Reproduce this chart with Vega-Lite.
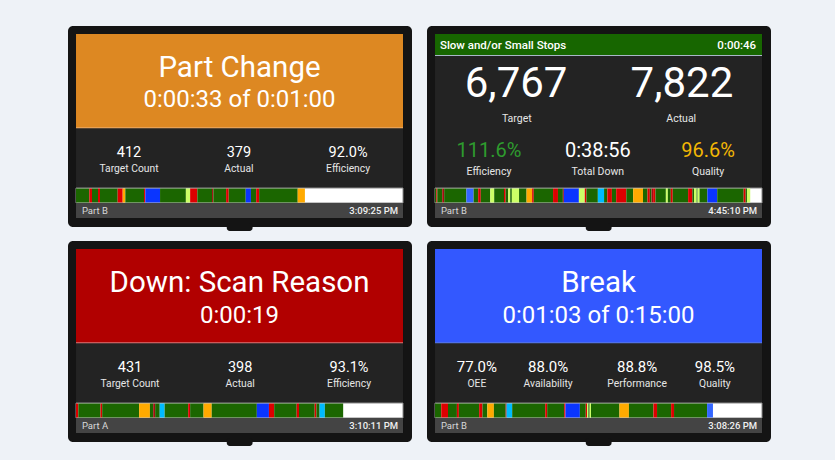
{
"$schema":"https://vega.github.io/schema/vega-lite/v6.json",
"background":"#EEF2F7",
"padding":{"left":68,"top":26,"right":64,"bottom":14},
"spacing":10,
"config":{"view":{"stroke":null},"text":{"font":"Roboto"}},
"datasets":{
"screens":[
{"screen":"A","title":"Part Change","timer":"0:00:33 of 0:01:00","v1":"412","l1":"Target Count","v2":"379","l2":"Actual","v3":"92.0%","l3":"Efficiency","part":"Part B","clock":"3:09:25 PM"},
{"screen":"B","title":"Slow and/or Small Stops","timer":"0:00:46","b1":"6,767","bl1":"Target","b2":"7,822","bl2":"Actual","v1":"111.6%","l1":"Efficiency","v2":"0:38:56","l2":"Total Down","v3":"96.6%","l3":"Quality","part":"Part B","clock":"4:45:10 PM"},
{"screen":"C","title":"Down: Scan Reason","timer":"0:00:19","v1":"431","l1":"Target Count","v2":"398","l2":"Actual","v3":"93.1%","l3":"Efficiency","part":"Part A","clock":"3:10:11 PM"},
{"screen":"D","title":"Break","timer":"0:01:03 of 0:15:00","v1":"77.0%","l1":"OEE","v2":"88.0%","l2":"Availability","v3":"88.8%","l3":"Performance","v4":"98.5%","l4":"Quality","part":"Part B","clock":"3:08:26 PM"}
],
"segments":[
{"screen":"A","state":"Running","start":0,"end":4.07},
{"screen":"A","state":"Down","start":4.07,"end":4.89},
{"screen":"A","state":"Running","start":4.89,"end":6.73},
{"screen":"A","state":"Down","start":6.73,"end":7.34},
{"screen":"A","state":"Running","start":7.34,"end":12.75},
{"screen":"A","state":"Down","start":12.75,"end":14.28},
{"screen":"A","state":"Part Change","start":14.28,"end":15.08},
{"screen":"A","state":"Running","start":15.08,"end":20.8},
{"screen":"A","state":"Down","start":20.8,"end":21.2},
{"screen":"A","state":"Break","start":21.2,"end":25.7},
{"screen":"A","state":"Running","start":25.7,"end":33.6},
{"screen":"A","state":"Small Stops","start":33.6,"end":34.9},
{"screen":"A","state":"Down","start":34.9,"end":37.1},
{"screen":"A","state":"Running","start":37.1,"end":41.6},
{"screen":"A","state":"Unscanned Down","start":41.6,"end":42.0},
{"screen":"A","state":"Running","start":42.0,"end":45.9},
{"screen":"A","state":"Down","start":45.9,"end":46.7},
{"screen":"A","state":"Running","start":46.7,"end":51.9},
{"screen":"A","state":"Break","start":51.9,"end":53.5},
{"screen":"A","state":"Running","start":53.5,"end":55.1},
{"screen":"A","state":"Down","start":55.1,"end":56.0},
{"screen":"A","state":"Running","start":56.0,"end":67.8},
{"screen":"A","state":"Part Change","start":67.8,"end":70.0},
{"screen":"B","state":"Running","start":0,"end":0.4},
{"screen":"B","state":"Down","start":0.4,"end":0.7},
{"screen":"B","state":"Running","start":0.7,"end":2.2},
{"screen":"B","state":"Unscanned Down","start":2.2,"end":2.8},
{"screen":"B","state":"Running","start":2.8,"end":9.6},
{"screen":"B","state":"Lunch","start":9.6,"end":11.8},
{"screen":"B","state":"Running","start":11.8,"end":13.2},
{"screen":"B","state":"Down","start":13.2,"end":14.0},
{"screen":"B","state":"Running","start":14.0,"end":16.9},
{"screen":"B","state":"Small Stops","start":16.9,"end":18.1},
{"screen":"B","state":"Running","start":18.1,"end":21.1},
{"screen":"B","state":"Down","start":21.1,"end":21.6},
{"screen":"B","state":"Running","start":21.6,"end":22.4},
{"screen":"B","state":"Small Stops","start":22.4,"end":23.0},
{"screen":"B","state":"Running","start":23.0,"end":23.5},
{"screen":"B","state":"Small Stops","start":23.5,"end":25.7},
{"screen":"B","state":"Running","start":25.7,"end":28.0},
{"screen":"B","state":"Part Change","start":28.0,"end":29.7},
{"screen":"B","state":"Down","start":29.7,"end":30.2},
{"screen":"B","state":"Running","start":30.2,"end":36.1},
{"screen":"B","state":"Down","start":36.1,"end":37.6},
{"screen":"B","state":"Running","start":37.6,"end":39.1},
{"screen":"B","state":"Unscanned Down","start":39.1,"end":39.4},
{"screen":"B","state":"Break","start":39.4,"end":44.0},
{"screen":"B","state":"Small Stops","start":44.0,"end":45.8},
{"screen":"B","state":"Down","start":45.8,"end":46.3},
{"screen":"B","state":"Running","start":46.3,"end":49.8},
{"screen":"B","state":"Meeting","start":49.8,"end":51.7},
{"screen":"B","state":"Running","start":51.7,"end":52.7},
{"screen":"B","state":"Down","start":52.7,"end":54.1},
{"screen":"B","state":"Running","start":54.1,"end":55.4},
{"screen":"B","state":"Down","start":55.4,"end":58.5},
{"screen":"B","state":"Running","start":58.5,"end":60.6},
{"screen":"B","state":"Part Change","start":60.6,"end":63.6},
{"screen":"B","state":"Running","start":63.6,"end":65.0},
{"screen":"B","state":"Down","start":65.0,"end":65.7},
{"screen":"B","state":"Running","start":65.7,"end":66.2},
{"screen":"B","state":"Unscanned Down","start":66.2,"end":66.7},
{"screen":"B","state":"Down","start":66.7,"end":67.4},
{"screen":"B","state":"Running","start":67.4,"end":70.6},
{"screen":"B","state":"Small Stops","start":70.6,"end":71.2},
{"screen":"B","state":"Running","start":71.2,"end":72.1},
{"screen":"B","state":"Down","start":72.1,"end":72.7},
{"screen":"B","state":"Running","start":72.7,"end":77.4},
{"screen":"B","state":"Down","start":77.4,"end":78.7},
{"screen":"B","state":"Running","start":78.7,"end":79.2},
{"screen":"B","state":"Small Stops","start":79.2,"end":80.0},
{"screen":"B","state":"Running","start":80.0,"end":80.3},
{"screen":"B","state":"Small Stops","start":80.3,"end":80.9},
{"screen":"B","state":"Running","start":80.9,"end":83.3},
{"screen":"B","state":"Break","start":83.3,"end":86.3},
{"screen":"B","state":"Running","start":86.3,"end":94.4},
{"screen":"B","state":"Down","start":94.4,"end":95.0},
{"screen":"B","state":"Running","start":95.0,"end":95.4},
{"screen":"B","state":"Small Stops","start":95.4,"end":96.4},
{"screen":"C","state":"Down","start":0,"end":0.7},
{"screen":"C","state":"Running","start":0.7,"end":7.5},
{"screen":"C","state":"Down","start":7.5,"end":8.0},
{"screen":"C","state":"Running","start":8.0,"end":19.3},
{"screen":"C","state":"Part Change","start":19.3,"end":22.6},
{"screen":"C","state":"Running","start":22.6,"end":23.6},
{"screen":"C","state":"Unscanned Down","start":23.6,"end":24.2},
{"screen":"C","state":"Running","start":24.2,"end":25.6},
{"screen":"C","state":"Meeting","start":25.6,"end":27.1},
{"screen":"C","state":"Running","start":27.1,"end":34.3},
{"screen":"C","state":"Down","start":34.3,"end":34.9},
{"screen":"C","state":"Running","start":34.9,"end":39.0},
{"screen":"C","state":"Part Change","start":39.0,"end":41.5},
{"screen":"C","state":"Running","start":41.5,"end":55.3},
{"screen":"C","state":"Break","start":55.3,"end":59.0},
{"screen":"C","state":"Down","start":59.0,"end":60.6},
{"screen":"C","state":"Running","start":60.6,"end":67.5},
{"screen":"C","state":"Down","start":67.5,"end":68.2},
{"screen":"C","state":"Running","start":68.2,"end":73.0},
{"screen":"C","state":"Down","start":73.0,"end":73.5},
{"screen":"C","state":"Running","start":73.5,"end":74.5},
{"screen":"C","state":"Meeting","start":74.5,"end":76.1},
{"screen":"C","state":"Running","start":76.1,"end":81.7},
{"screen":"D","state":"Running","start":0,"end":1.9},
{"screen":"D","state":"Down","start":1.9,"end":3.98},
{"screen":"D","state":"Running","start":3.98,"end":6.7},
{"screen":"D","state":"Down","start":6.7,"end":7.3},
{"screen":"D","state":"Running","start":7.3,"end":13.5},
{"screen":"D","state":"Down","start":13.5,"end":14.5},
{"screen":"D","state":"Running","start":14.5,"end":16.0},
{"screen":"D","state":"Part Change","start":16.0,"end":18.0},
{"screen":"D","state":"Running","start":18.0,"end":21.6},
{"screen":"D","state":"Unscanned Down","start":21.6,"end":21.9},
{"screen":"D","state":"Meeting","start":21.9,"end":23.6},
{"screen":"D","state":"Running","start":23.6,"end":33.7},
{"screen":"D","state":"Down","start":33.7,"end":34.3},
{"screen":"D","state":"Running","start":34.3,"end":39.5},
{"screen":"D","state":"Down","start":39.5,"end":39.9},
{"screen":"D","state":"Break","start":39.9,"end":44.3},
{"screen":"D","state":"Running","start":44.3,"end":46.1},
{"screen":"D","state":"Down","start":46.1,"end":46.5},
{"screen":"D","state":"Small Stops","start":46.5,"end":46.9},
{"screen":"D","state":"Running","start":46.9,"end":47.3},
{"screen":"D","state":"Small Stops","start":47.3,"end":47.7},
{"screen":"D","state":"Running","start":47.7,"end":56.4},
{"screen":"D","state":"Part Change","start":56.4,"end":59.3},
{"screen":"D","state":"Running","start":59.3,"end":66.8},
{"screen":"D","state":"Down","start":66.8,"end":67.9},
{"screen":"D","state":"Running","start":67.9,"end":72.2},
{"screen":"D","state":"Down","start":72.2,"end":73.1},
{"screen":"D","state":"Running","start":73.1,"end":83.2},
{"screen":"D","state":"Lunch","start":83.2,"end":85.0}
]
},
"vconcat":[
{"spacing":15,"hconcat":[
{"width":344,"height":205,"data":{"name":"screens"},"transform":[{"filter":"datum.screen === 'A'"}],
"layer":[
{"mark":{"type":"rect","fill":"#141414","cornerRadius":5},"encoding":{"x":{"datum":-2.45,"type":"quantitative","scale":{"domain":[-2.45,102.75],"nice":false,"zero":false},"axis":null},"x2":{"datum":102.75},"y":{"datum":0,"type":"quantitative","scale":{"domain":[0,205],"nice":false,"zero":false,"reverse":true},"axis":null},"y2":{"datum":201}}},
{"mark":{"type":"rect","fill":"#141414","cornerRadius":3},"encoding":{"x":{"datum":46.1,"type":"quantitative","axis":null},"x2":{"datum":54},"y":{"datum":197,"type":"quantitative","axis":null},"y2":{"datum":205}}},
{"mark":{"type":"rect","fill":"#232323"},"encoding":{"x":{"datum":0,"type":"quantitative","axis":null},"x2":{"datum":100},"y":{"datum":8,"type":"quantitative","axis":null},"y2":{"datum":192}}},
{"mark":{"type":"rect","fill":"#DD8822"},"encoding":{"x":{"datum":0,"type":"quantitative","axis":null},"x2":{"datum":100},"y":{"datum":8,"type":"quantitative","axis":null},"y2":{"datum":102}}},
{"mark":{"type":"rect","fill":"#EBAA66"},"encoding":{"x":{"datum":0,"type":"quantitative","axis":null},"x2":{"datum":100},"y":{"datum":101.3,"type":"quantitative","axis":null},"y2":{"datum":102.3}}},
{"mark":{"type":"rect","fill":"#FFFFFF","stroke":"#8A8A8A","strokeWidth":1},"encoding":{"x":{"datum":0,"type":"quantitative","axis":null},"x2":{"datum":100},"y":{"datum":162,"type":"quantitative","axis":null},"y2":{"datum":177}}},
{"data":{"name":"segments"},"transform":[{"filter":"datum.screen === 'A'"}],"mark":{"type":"rect"},"encoding":{"x":{"field":"start","type":"quantitative","axis":null},"x2":{"field":"end"},"y":{"datum":162.5,"type":"quantitative","axis":null},"y2":{"datum":176.5},"color":{"field":"state","type":"nominal","legend":null,"scale":{"domain":["Running","Down","Unscanned Down","Part Change","Break","Lunch","Small Stops","Meeting"],"range":["#1B6600","#DD0000","#A00F0F","#FFAA00","#0A35FF","#3366FF","#CCFF66","#00BBFF"]}}}},
{"mark":{"type":"rect","fill":"#444444"},"encoding":{"x":{"datum":0,"type":"quantitative","axis":null},"x2":{"datum":100},"y":{"datum":177,"type":"quantitative","axis":null},"y2":{"datum":192}}},
{"mark":{"type":"text","fontSize":29.5,"fill":"#FFFFFF","align":"center","baseline":"alphabetic"},"encoding":{"x":{"datum":50,"type":"quantitative","axis":null},"y":{"datum":51,"type":"quantitative","axis":null},"text":{"field":"title"}}},
{"mark":{"type":"text","fontSize":24,"fill":"#FFFFFF","align":"center","baseline":"alphabetic"},"encoding":{"x":{"datum":50,"type":"quantitative","axis":null},"y":{"datum":81,"type":"quantitative","axis":null},"text":{"field":"timer"}}},
{"mark":{"type":"text","fontSize":14.5,"fill":"#FFFFFF","align":"center","baseline":"alphabetic"},"encoding":{"x":{"datum":16.2,"type":"quantitative","axis":null},"y":{"datum":131,"type":"quantitative","axis":null},"text":{"field":"v1"}}},
{"mark":{"type":"text","fontSize":14.5,"fill":"#FFFFFF","align":"center","baseline":"alphabetic"},"encoding":{"x":{"datum":49.8,"type":"quantitative","axis":null},"y":{"datum":131,"type":"quantitative","axis":null},"text":{"field":"v2"}}},
{"mark":{"type":"text","fontSize":14.5,"fill":"#FFFFFF","align":"center","baseline":"alphabetic"},"encoding":{"x":{"datum":83.2,"type":"quantitative","axis":null},"y":{"datum":131,"type":"quantitative","axis":null},"text":{"field":"v3"}}},
{"mark":{"type":"text","fontSize":10.3,"fill":"#E6E6E6","align":"center","baseline":"alphabetic"},"encoding":{"x":{"datum":16.2,"type":"quantitative","axis":null},"y":{"datum":146,"type":"quantitative","axis":null},"text":{"field":"l1"}}},
{"mark":{"type":"text","fontSize":10.3,"fill":"#E6E6E6","align":"center","baseline":"alphabetic"},"encoding":{"x":{"datum":49.8,"type":"quantitative","axis":null},"y":{"datum":146,"type":"quantitative","axis":null},"text":{"field":"l2"}}},
{"mark":{"type":"text","fontSize":10.3,"fill":"#E6E6E6","align":"center","baseline":"alphabetic"},"encoding":{"x":{"datum":83.2,"type":"quantitative","axis":null},"y":{"datum":146,"type":"quantitative","axis":null},"text":{"field":"l3"}}},
{"mark":{"type":"text","fontSize":9.5,"fill":"#D8D8D8","align":"left","baseline":"alphabetic"},"encoding":{"x":{"datum":1.8,"type":"quantitative","axis":null},"y":{"datum":188,"type":"quantitative","axis":null},"text":{"field":"part"}}},
{"mark":{"type":"text","fontSize":9.5,"fontWeight":500,"fill":"#F0F0F0","align":"right","baseline":"alphabetic"},"encoding":{"x":{"datum":98.5,"type":"quantitative","axis":null},"y":{"datum":188,"type":"quantitative","axis":null},"text":{"field":"clock"}}}
]},
{"width":344,"height":205,"data":{"name":"screens"},"transform":[{"filter":"datum.screen === 'B'"}],
"layer":[
{"mark":{"type":"rect","fill":"#141414","cornerRadius":5},"encoding":{"x":{"datum":-2.45,"type":"quantitative","scale":{"domain":[-2.45,102.75],"nice":false,"zero":false},"axis":null},"x2":{"datum":102.75},"y":{"datum":0,"type":"quantitative","scale":{"domain":[0,205],"nice":false,"zero":false,"reverse":true},"axis":null},"y2":{"datum":201}}},
{"mark":{"type":"rect","fill":"#141414","cornerRadius":3},"encoding":{"x":{"datum":46.1,"type":"quantitative","axis":null},"x2":{"datum":54},"y":{"datum":197,"type":"quantitative","axis":null},"y2":{"datum":205}}},
{"mark":{"type":"rect","fill":"#232323"},"encoding":{"x":{"datum":0,"type":"quantitative","axis":null},"x2":{"datum":100},"y":{"datum":8,"type":"quantitative","axis":null},"y2":{"datum":192}}},
{"mark":{"type":"rect","fill":"#176600"},"encoding":{"x":{"datum":0,"type":"quantitative","axis":null},"x2":{"datum":100},"y":{"datum":8,"type":"quantitative","axis":null},"y2":{"datum":29}}},
{"mark":{"type":"rect","fill":"#A9B6C8"},"encoding":{"x":{"datum":0,"type":"quantitative","axis":null},"x2":{"datum":100},"y":{"datum":29,"type":"quantitative","axis":null},"y2":{"datum":30}}},
{"mark":{"type":"rect","fill":"#FFFFFF","stroke":"#8A8A8A","strokeWidth":1},"encoding":{"x":{"datum":0,"type":"quantitative","axis":null},"x2":{"datum":100},"y":{"datum":162,"type":"quantitative","axis":null},"y2":{"datum":177}}},
{"data":{"name":"segments"},"transform":[{"filter":"datum.screen === 'B'"}],"mark":{"type":"rect"},"encoding":{"x":{"field":"start","type":"quantitative","axis":null},"x2":{"field":"end"},"y":{"datum":162.5,"type":"quantitative","axis":null},"y2":{"datum":176.5},"color":{"field":"state","type":"nominal","legend":null,"scale":{"domain":["Running","Down","Unscanned Down","Part Change","Break","Lunch","Small Stops","Meeting"],"range":["#1B6600","#DD0000","#A00F0F","#FFAA00","#0A35FF","#3366FF","#CCFF66","#00BBFF"]}}}},
{"mark":{"type":"rect","fill":"#444444"},"encoding":{"x":{"datum":0,"type":"quantitative","axis":null},"x2":{"datum":100},"y":{"datum":177,"type":"quantitative","axis":null},"y2":{"datum":192}}},
{"mark":{"type":"text","fontSize":11.5,"fontWeight":500,"fill":"#FFFFFF","align":"left","baseline":"alphabetic"},"encoding":{"x":{"datum":1.5,"type":"quantitative","axis":null},"y":{"datum":23,"type":"quantitative","axis":null},"text":{"field":"title"}}},
{"mark":{"type":"text","fontSize":11.5,"fontWeight":500,"fill":"#FFFFFF","align":"right","baseline":"alphabetic"},"encoding":{"x":{"datum":98.2,"type":"quantitative","axis":null},"y":{"datum":23,"type":"quantitative","axis":null},"text":{"field":"timer"}}},
{"mark":{"type":"text","fontSize":42,"fill":"#FFFFFF","align":"center","baseline":"alphabetic"},"encoding":{"x":{"datum":24.8,"type":"quantitative","axis":null},"y":{"datum":71,"type":"quantitative","axis":null},"text":{"field":"b1"}}},
{"mark":{"type":"text","fontSize":42,"fill":"#FFFFFF","align":"center","baseline":"alphabetic"},"encoding":{"x":{"datum":75.5,"type":"quantitative","axis":null},"y":{"datum":71,"type":"quantitative","axis":null},"text":{"field":"b2"}}},
{"mark":{"type":"text","fontSize":10.5,"fill":"#E6E6E6","align":"center","baseline":"alphabetic"},"encoding":{"x":{"datum":25,"type":"quantitative","axis":null},"y":{"datum":96,"type":"quantitative","axis":null},"text":{"field":"bl1"}}},
{"mark":{"type":"text","fontSize":10.5,"fill":"#E6E6E6","align":"center","baseline":"alphabetic"},"encoding":{"x":{"datum":75.3,"type":"quantitative","axis":null},"y":{"datum":96,"type":"quantitative","axis":null},"text":{"field":"bl2"}}},
{"mark":{"type":"text","fontSize":20,"fill":"#2E9B2E","align":"center","baseline":"alphabetic"},"encoding":{"x":{"datum":16.5,"type":"quantitative","axis":null},"y":{"datum":131,"type":"quantitative","axis":null},"text":{"field":"v1"}}},
{"mark":{"type":"text","fontSize":20,"fill":"#FFFFFF","align":"center","baseline":"alphabetic"},"encoding":{"x":{"datum":49.8,"type":"quantitative","axis":null},"y":{"datum":131,"type":"quantitative","axis":null},"text":{"field":"v2"}}},
{"mark":{"type":"text","fontSize":20,"fill":"#F2B705","align":"center","baseline":"alphabetic"},"encoding":{"x":{"datum":83.5,"type":"quantitative","axis":null},"y":{"datum":131,"type":"quantitative","axis":null},"text":{"field":"v3"}}},
{"mark":{"type":"text","fontSize":10.5,"fill":"#E6E6E6","align":"center","baseline":"alphabetic"},"encoding":{"x":{"datum":16.5,"type":"quantitative","axis":null},"y":{"datum":149,"type":"quantitative","axis":null},"text":{"field":"l1"}}},
{"mark":{"type":"text","fontSize":10.5,"fill":"#E6E6E6","align":"center","baseline":"alphabetic"},"encoding":{"x":{"datum":49.8,"type":"quantitative","axis":null},"y":{"datum":149,"type":"quantitative","axis":null},"text":{"field":"l2"}}},
{"mark":{"type":"text","fontSize":10.5,"fill":"#E6E6E6","align":"center","baseline":"alphabetic"},"encoding":{"x":{"datum":83.5,"type":"quantitative","axis":null},"y":{"datum":149,"type":"quantitative","axis":null},"text":{"field":"l3"}}},
{"mark":{"type":"text","fontSize":9.5,"fill":"#D8D8D8","align":"left","baseline":"alphabetic"},"encoding":{"x":{"datum":1.8,"type":"quantitative","axis":null},"y":{"datum":188,"type":"quantitative","axis":null},"text":{"field":"part"}}},
{"mark":{"type":"text","fontSize":9.5,"fontWeight":500,"fill":"#F0F0F0","align":"right","baseline":"alphabetic"},"encoding":{"x":{"datum":98.5,"type":"quantitative","axis":null},"y":{"datum":188,"type":"quantitative","axis":null},"text":{"field":"clock"}}}
]}
]},
{"spacing":15,"hconcat":[
{"width":344,"height":205,"data":{"name":"screens"},"transform":[{"filter":"datum.screen === 'C'"}],
"layer":[
{"mark":{"type":"rect","fill":"#141414","cornerRadius":5},"encoding":{"x":{"datum":-2.45,"type":"quantitative","scale":{"domain":[-2.45,102.75],"nice":false,"zero":false},"axis":null},"x2":{"datum":102.75},"y":{"datum":0,"type":"quantitative","scale":{"domain":[0,205],"nice":false,"zero":false,"reverse":true},"axis":null},"y2":{"datum":201}}},
{"mark":{"type":"rect","fill":"#141414","cornerRadius":3},"encoding":{"x":{"datum":46.1,"type":"quantitative","axis":null},"x2":{"datum":54},"y":{"datum":197,"type":"quantitative","axis":null},"y2":{"datum":205}}},
{"mark":{"type":"rect","fill":"#232323"},"encoding":{"x":{"datum":0,"type":"quantitative","axis":null},"x2":{"datum":100},"y":{"datum":8,"type":"quantitative","axis":null},"y2":{"datum":192}}},
{"mark":{"type":"rect","fill":"#B10000"},"encoding":{"x":{"datum":0,"type":"quantitative","axis":null},"x2":{"datum":100},"y":{"datum":8,"type":"quantitative","axis":null},"y2":{"datum":102}}},
{"mark":{"type":"rect","fill":"#D77777"},"encoding":{"x":{"datum":0,"type":"quantitative","axis":null},"x2":{"datum":100},"y":{"datum":101.3,"type":"quantitative","axis":null},"y2":{"datum":102.3}}},
{"mark":{"type":"rect","fill":"#FFFFFF","stroke":"#8A8A8A","strokeWidth":1},"encoding":{"x":{"datum":0,"type":"quantitative","axis":null},"x2":{"datum":100},"y":{"datum":162,"type":"quantitative","axis":null},"y2":{"datum":177}}},
{"data":{"name":"segments"},"transform":[{"filter":"datum.screen === 'C'"}],"mark":{"type":"rect"},"encoding":{"x":{"field":"start","type":"quantitative","axis":null},"x2":{"field":"end"},"y":{"datum":162.5,"type":"quantitative","axis":null},"y2":{"datum":176.5},"color":{"field":"state","type":"nominal","legend":null,"scale":{"domain":["Running","Down","Unscanned Down","Part Change","Break","Lunch","Small Stops","Meeting"],"range":["#1B6600","#DD0000","#A00F0F","#FFAA00","#0A35FF","#3366FF","#CCFF66","#00BBFF"]}}}},
{"mark":{"type":"rect","fill":"#444444"},"encoding":{"x":{"datum":0,"type":"quantitative","axis":null},"x2":{"datum":100},"y":{"datum":177,"type":"quantitative","axis":null},"y2":{"datum":192}}},
{"mark":{"type":"text","fontSize":29.5,"fill":"#FFFFFF","align":"center","baseline":"alphabetic"},"encoding":{"x":{"datum":50,"type":"quantitative","axis":null},"y":{"datum":51,"type":"quantitative","axis":null},"text":{"field":"title"}}},
{"mark":{"type":"text","fontSize":24,"fill":"#FFFFFF","align":"center","baseline":"alphabetic"},"encoding":{"x":{"datum":50,"type":"quantitative","axis":null},"y":{"datum":82,"type":"quantitative","axis":null},"text":{"field":"timer"}}},
{"mark":{"type":"text","fontSize":14.5,"fill":"#FFFFFF","align":"center","baseline":"alphabetic"},"encoding":{"x":{"datum":16.5,"type":"quantitative","axis":null},"y":{"datum":131,"type":"quantitative","axis":null},"text":{"field":"v1"}}},
{"mark":{"type":"text","fontSize":14.5,"fill":"#FFFFFF","align":"center","baseline":"alphabetic"},"encoding":{"x":{"datum":50.2,"type":"quantitative","axis":null},"y":{"datum":131,"type":"quantitative","axis":null},"text":{"field":"v2"}}},
{"mark":{"type":"text","fontSize":14.5,"fill":"#FFFFFF","align":"center","baseline":"alphabetic"},"encoding":{"x":{"datum":83.5,"type":"quantitative","axis":null},"y":{"datum":131,"type":"quantitative","axis":null},"text":{"field":"v3"}}},
{"mark":{"type":"text","fontSize":10.3,"fill":"#E6E6E6","align":"center","baseline":"alphabetic"},"encoding":{"x":{"datum":16.5,"type":"quantitative","axis":null},"y":{"datum":146,"type":"quantitative","axis":null},"text":{"field":"l1"}}},
{"mark":{"type":"text","fontSize":10.3,"fill":"#E6E6E6","align":"center","baseline":"alphabetic"},"encoding":{"x":{"datum":50.2,"type":"quantitative","axis":null},"y":{"datum":146,"type":"quantitative","axis":null},"text":{"field":"l2"}}},
{"mark":{"type":"text","fontSize":10.3,"fill":"#E6E6E6","align":"center","baseline":"alphabetic"},"encoding":{"x":{"datum":83.5,"type":"quantitative","axis":null},"y":{"datum":146,"type":"quantitative","axis":null},"text":{"field":"l3"}}},
{"mark":{"type":"text","fontSize":9.5,"fill":"#D8D8D8","align":"left","baseline":"alphabetic"},"encoding":{"x":{"datum":1.8,"type":"quantitative","axis":null},"y":{"datum":188,"type":"quantitative","axis":null},"text":{"field":"part"}}},
{"mark":{"type":"text","fontSize":9.5,"fontWeight":500,"fill":"#F0F0F0","align":"right","baseline":"alphabetic"},"encoding":{"x":{"datum":98.5,"type":"quantitative","axis":null},"y":{"datum":188,"type":"quantitative","axis":null},"text":{"field":"clock"}}}
]},
{"width":344,"height":205,"data":{"name":"screens"},"transform":[{"filter":"datum.screen === 'D'"}],
"layer":[
{"mark":{"type":"rect","fill":"#141414","cornerRadius":5},"encoding":{"x":{"datum":-2.45,"type":"quantitative","scale":{"domain":[-2.45,102.75],"nice":false,"zero":false},"axis":null},"x2":{"datum":102.75},"y":{"datum":0,"type":"quantitative","scale":{"domain":[0,205],"nice":false,"zero":false,"reverse":true},"axis":null},"y2":{"datum":201}}},
{"mark":{"type":"rect","fill":"#141414","cornerRadius":3},"encoding":{"x":{"datum":46.1,"type":"quantitative","axis":null},"x2":{"datum":54},"y":{"datum":197,"type":"quantitative","axis":null},"y2":{"datum":205}}},
{"mark":{"type":"rect","fill":"#232323"},"encoding":{"x":{"datum":0,"type":"quantitative","axis":null},"x2":{"datum":100},"y":{"datum":8,"type":"quantitative","axis":null},"y2":{"datum":192}}},
{"mark":{"type":"rect","fill":"#3358FF"},"encoding":{"x":{"datum":0,"type":"quantitative","axis":null},"x2":{"datum":100},"y":{"datum":8,"type":"quantitative","axis":null},"y2":{"datum":102}}},
{"mark":{"type":"rect","fill":"#5A78E0"},"encoding":{"x":{"datum":0,"type":"quantitative","axis":null},"x2":{"datum":100},"y":{"datum":101.3,"type":"quantitative","axis":null},"y2":{"datum":102.3}}},
{"mark":{"type":"rect","fill":"#FFFFFF","stroke":"#8A8A8A","strokeWidth":1},"encoding":{"x":{"datum":0,"type":"quantitative","axis":null},"x2":{"datum":100},"y":{"datum":162,"type":"quantitative","axis":null},"y2":{"datum":177}}},
{"data":{"name":"segments"},"transform":[{"filter":"datum.screen === 'D'"}],"mark":{"type":"rect"},"encoding":{"x":{"field":"start","type":"quantitative","axis":null},"x2":{"field":"end"},"y":{"datum":162.5,"type":"quantitative","axis":null},"y2":{"datum":176.5},"color":{"field":"state","type":"nominal","legend":null,"scale":{"domain":["Running","Down","Unscanned Down","Part Change","Break","Lunch","Small Stops","Meeting"],"range":["#1B6600","#DD0000","#A00F0F","#FFAA00","#0A35FF","#3366FF","#CCFF66","#00BBFF"]}}}},
{"mark":{"type":"rect","fill":"#444444"},"encoding":{"x":{"datum":0,"type":"quantitative","axis":null},"x2":{"datum":100},"y":{"datum":177,"type":"quantitative","axis":null},"y2":{"datum":192}}},
{"mark":{"type":"text","fontSize":29.5,"fill":"#FFFFFF","align":"center","baseline":"alphabetic"},"encoding":{"x":{"datum":50,"type":"quantitative","axis":null},"y":{"datum":51,"type":"quantitative","axis":null},"text":{"field":"title"}}},
{"mark":{"type":"text","fontSize":24,"fill":"#FFFFFF","align":"center","baseline":"alphabetic"},"encoding":{"x":{"datum":50,"type":"quantitative","axis":null},"y":{"datum":82,"type":"quantitative","axis":null},"text":{"field":"timer"}}},
{"mark":{"type":"text","fontSize":15,"fill":"#FFFFFF","align":"center","baseline":"alphabetic"},"encoding":{"x":{"datum":12.8,"type":"quantitative","axis":null},"y":{"datum":131,"type":"quantitative","axis":null},"text":{"field":"v1"}}},
{"mark":{"type":"text","fontSize":15,"fill":"#FFFFFF","align":"center","baseline":"alphabetic"},"encoding":{"x":{"datum":34.6,"type":"quantitative","axis":null},"y":{"datum":131,"type":"quantitative","axis":null},"text":{"field":"v2"}}},
{"mark":{"type":"text","fontSize":15,"fill":"#FFFFFF","align":"center","baseline":"alphabetic"},"encoding":{"x":{"datum":61.8,"type":"quantitative","axis":null},"y":{"datum":131,"type":"quantitative","axis":null},"text":{"field":"v3"}}},
{"mark":{"type":"text","fontSize":15,"fill":"#FFFFFF","align":"center","baseline":"alphabetic"},"encoding":{"x":{"datum":85.6,"type":"quantitative","axis":null},"y":{"datum":131,"type":"quantitative","axis":null},"text":{"field":"v4"}}},
{"mark":{"type":"text","fontSize":10.3,"fill":"#E6E6E6","align":"center","baseline":"alphabetic"},"encoding":{"x":{"datum":12.8,"type":"quantitative","axis":null},"y":{"datum":146,"type":"quantitative","axis":null},"text":{"field":"l1"}}},
{"mark":{"type":"text","fontSize":10.3,"fill":"#E6E6E6","align":"center","baseline":"alphabetic"},"encoding":{"x":{"datum":34.6,"type":"quantitative","axis":null},"y":{"datum":146,"type":"quantitative","axis":null},"text":{"field":"l2"}}},
{"mark":{"type":"text","fontSize":10.3,"fill":"#E6E6E6","align":"center","baseline":"alphabetic"},"encoding":{"x":{"datum":61.8,"type":"quantitative","axis":null},"y":{"datum":146,"type":"quantitative","axis":null},"text":{"field":"l3"}}},
{"mark":{"type":"text","fontSize":10.3,"fill":"#E6E6E6","align":"center","baseline":"alphabetic"},"encoding":{"x":{"datum":85.6,"type":"quantitative","axis":null},"y":{"datum":146,"type":"quantitative","axis":null},"text":{"field":"l4"}}},
{"mark":{"type":"text","fontSize":9.5,"fill":"#D8D8D8","align":"left","baseline":"alphabetic"},"encoding":{"x":{"datum":1.8,"type":"quantitative","axis":null},"y":{"datum":188,"type":"quantitative","axis":null},"text":{"field":"part"}}},
{"mark":{"type":"text","fontSize":9.5,"fontWeight":500,"fill":"#F0F0F0","align":"right","baseline":"alphabetic"},"encoding":{"x":{"datum":98.5,"type":"quantitative","axis":null},"y":{"datum":188,"type":"quantitative","axis":null},"text":{"field":"clock"}}}
]}
]}
]
}
